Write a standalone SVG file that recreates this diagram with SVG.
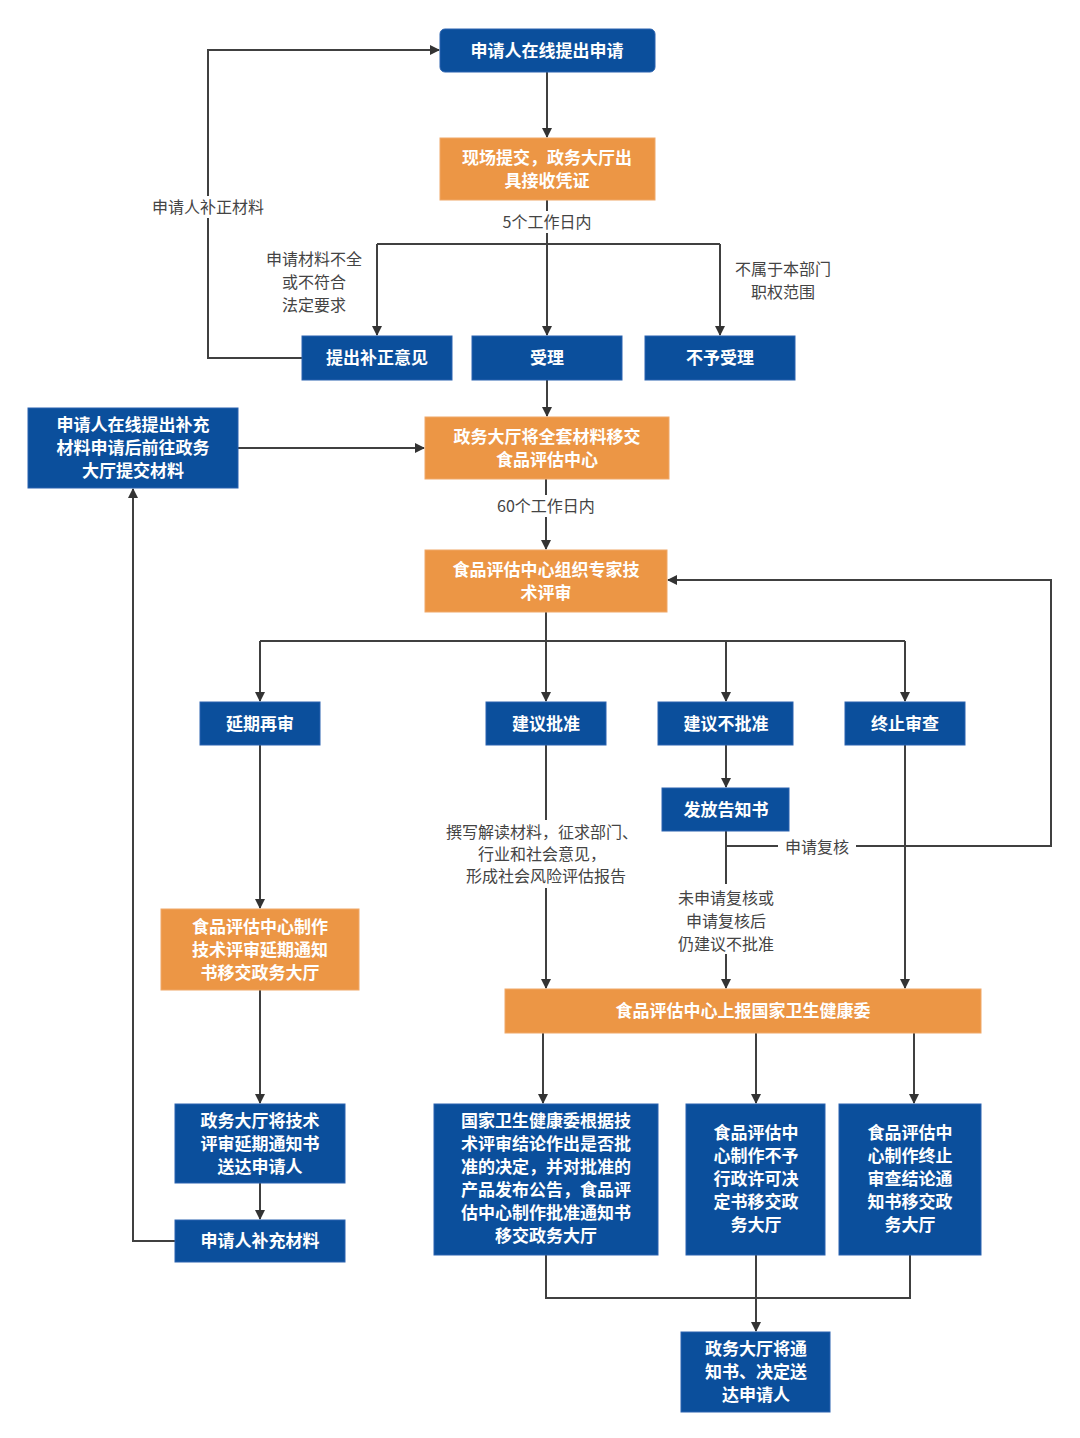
<svg xmlns="http://www.w3.org/2000/svg" width="1080" height="1438" viewBox="0 0 1080 1438">
<style>
.b{fill:#0b4f9c;stroke:#2a62b0;stroke-width:1}
.o{fill:#ec9645;stroke:#f0a868;stroke-width:1}
.t{font-family:"Noto Sans CJK SC","Liberation Sans",sans-serif;font-size:17px;fill:#fff;text-anchor:middle;font-weight:bold}
.l{font-family:"Noto Sans CJK SC","Liberation Sans",sans-serif;font-size:16px;fill:#444;text-anchor:middle}
.c{fill:none;stroke:#404040;stroke-width:2;marker-end:url(#a)}
.n{fill:none;stroke:#404040;stroke-width:2}
.bg{fill:#fff}
</style>
<defs><marker id="a" markerWidth="10" markerHeight="10" refX="9" refY="5" orient="auto" markerUnits="userSpaceOnUse"><path d="M0,0 L10,5 L0,10 z" fill="#333"/></marker></defs>
<rect width="1080" height="1438" fill="#fff"/>
<g id="connectors">
<path class="c" d="M547,72 V137"/>
<path class="n" d="M547,200 V244"/>
<path class="n" d="M377,244 H720"/>
<path class="c" d="M377,244 V335"/>
<path class="c" d="M547,244 V335"/>
<path class="c" d="M720,244 V335"/>
<path class="c" d="M302,358 H208 V50 H439"/>
<path class="c" d="M238,448 H424"/>
<path class="c" d="M547,380 V416"/>
<path class="c" d="M546,479 V549"/>
<path class="n" d="M546,612 V641"/>
<path class="n" d="M260,641 H905"/>
<path class="c" d="M260,641 V701"/>
<path class="c" d="M546,641 V701"/>
<path class="c" d="M726,641 V701"/>
<path class="c" d="M905,641 V701"/>
<path class="c" d="M726,745 V787"/>
<path class="c" d="M726,846 H1051 V580 H668"/>
<path class="c" d="M726,831 V988"/>
<path class="c" d="M546,745 V988"/>
<path class="c" d="M905,745 V988"/>
<path class="c" d="M260,745 V908"/>
<path class="c" d="M260,990 V1103"/>
<path class="c" d="M260,1183 V1219"/>
<path class="c" d="M175,1241 H133 V489"/>
<path class="c" d="M543,1033 V1103"/>
<path class="c" d="M756,1033 V1103"/>
<path class="c" d="M914,1033 V1103"/>
<path class="n" d="M546,1255 V1298 H910 V1255"/>
<path class="c" d="M756,1255 V1331"/>
</g>
<g id="labels">
<rect class="bg" x="142" y="196" width="132" height="22"/><text class="l" x="208" y="213">申请人补正材料</text>
<rect class="bg" x="495" y="211" width="104" height="22"/><text class="l" x="547" y="228">5个工作日内</text>
<text class="l" x="314" y="265">申请材料不全</text><text class="l" x="314" y="288">或不符合</text><text class="l" x="314" y="311">法定要求</text>
<text class="l" x="783" y="275">不属于本部门</text><text class="l" x="783" y="298">职权范围</text>
<rect class="bg" x="486" y="495" width="120" height="22"/><text class="l" x="546" y="512">60个工作日内</text>
<rect class="bg" x="440" y="820" width="212" height="68"/>
<text class="l" x="542" y="838">撰写解读材料，征求部门、</text><text class="l" x="542" y="860">行业和社会意见，</text><text class="l" x="546" y="882">形成社会风险评估报告</text>
<rect class="bg" x="778" y="836" width="78" height="22"/><text class="l" x="817" y="853">申请复核</text>
<rect class="bg" x="666" y="884" width="120" height="70"/>
<text class="l" x="726" y="904">未申请复核或</text><text class="l" x="726" y="927">申请复核后</text><text class="l" x="726" y="950">仍建议不批准</text>
</g>
<g id="n1"><rect class="b" x="440" y="29" width="215" height="43" rx="5"/><text class="t" x="547" y="57">申请人在线提出申请</text></g>
<g id="n2"><rect class="o" x="440" y="138" width="215" height="62"/><text class="t" x="547" y="164">现场提交，政务大厅出</text><text class="t" x="547" y="187">具接收凭证</text></g>
<g id="n3"><rect class="b" x="302" y="336" width="150" height="44"/><text class="t" x="377" y="364">提出补正意见</text></g>
<g id="n4"><rect class="b" x="472" y="336" width="150" height="44"/><text class="t" x="547" y="364">受理</text></g>
<g id="n5"><rect class="b" x="645" y="336" width="150" height="44"/><text class="t" x="720" y="364">不予受理</text></g>
<g id="n6"><rect class="b" x="28" y="408" width="210" height="80"/><text class="t" x="133" y="431">申请人在线提出补充</text><text class="t" x="133" y="454">材料申请后前往政务</text><text class="t" x="133" y="477">大厅提交材料</text></g>
<g id="n7"><rect class="o" x="425" y="417" width="244" height="62"/><text class="t" x="547" y="443">政务大厅将全套材料移交</text><text class="t" x="547" y="466">食品评估中心</text></g>
<g id="n8"><rect class="o" x="425" y="550" width="242" height="62"/><text class="t" x="546" y="576">食品评估中心组织专家技</text><text class="t" x="546" y="599">术评审</text></g>
<g id="n9"><rect class="b" x="200" y="702" width="120" height="43"/><text class="t" x="260" y="730">延期再审</text></g>
<g id="n10"><rect class="b" x="486" y="702" width="120" height="43"/><text class="t" x="546" y="730">建议批准</text></g>
<g id="n11"><rect class="b" x="658" y="702" width="135" height="43"/><text class="t" x="726" y="730">建议不批准</text></g>
<g id="n12"><rect class="b" x="845" y="702" width="120" height="43"/><text class="t" x="905" y="730">终止审查</text></g>
<g id="n13"><rect class="b" x="662" y="788" width="127" height="43"/><text class="t" x="726" y="816">发放告知书</text></g>
<g id="n14"><rect class="o" x="161" y="909" width="198" height="81"/><text class="t" x="260" y="933">食品评估中心制作</text><text class="t" x="260" y="956">技术评审延期通知</text><text class="t" x="260" y="979">书移交政务大厅</text></g>
<g id="n15"><rect class="b" x="175" y="1104" width="170" height="79"/><text class="t" x="260" y="1127">政务大厅将技术</text><text class="t" x="260" y="1150">评审延期通知书</text><text class="t" x="260" y="1173">送达申请人</text></g>
<g id="n16"><rect class="b" x="175" y="1220" width="170" height="42"/><text class="t" x="260" y="1247">申请人补充材料</text></g>
<g id="n17"><rect class="o" x="505" y="989" width="476" height="44"/><text class="t" x="743" y="1017">食品评估中心上报国家卫生健康委</text></g>
<g id="n18"><rect class="b" x="434" y="1104" width="224" height="151"/>
<text class="t" x="546" y="1127">国家卫生健康委根据技</text><text class="t" x="546" y="1150">术评审结论作出是否批</text><text class="t" x="546" y="1173">准的决定，并对批准的</text><text class="t" x="546" y="1196">产品发布公告，食品评</text><text class="t" x="546" y="1219">估中心制作批准通知书</text><text class="t" x="546" y="1242">移交政务大厅</text></g>
<g id="n19"><rect class="b" x="686" y="1104" width="139" height="151"/>
<text class="t" x="756" y="1139">食品评估中</text><text class="t" x="756" y="1162">心制作不予</text><text class="t" x="756" y="1185">行政许可决</text><text class="t" x="756" y="1208">定书移交政</text><text class="t" x="756" y="1231">务大厅</text></g>
<g id="n20"><rect class="b" x="839" y="1104" width="142" height="151"/>
<text class="t" x="910" y="1139">食品评估中</text><text class="t" x="910" y="1162">心制作终止</text><text class="t" x="910" y="1185">审查结论通</text><text class="t" x="910" y="1208">知书移交政</text><text class="t" x="910" y="1231">务大厅</text></g>
<g id="n21"><rect class="b" x="681" y="1332" width="149" height="80"/><text class="t" x="756" y="1355">政务大厅将通</text><text class="t" x="756" y="1378">知书、决定送</text><text class="t" x="756" y="1401">达申请人</text></g>
</svg>
